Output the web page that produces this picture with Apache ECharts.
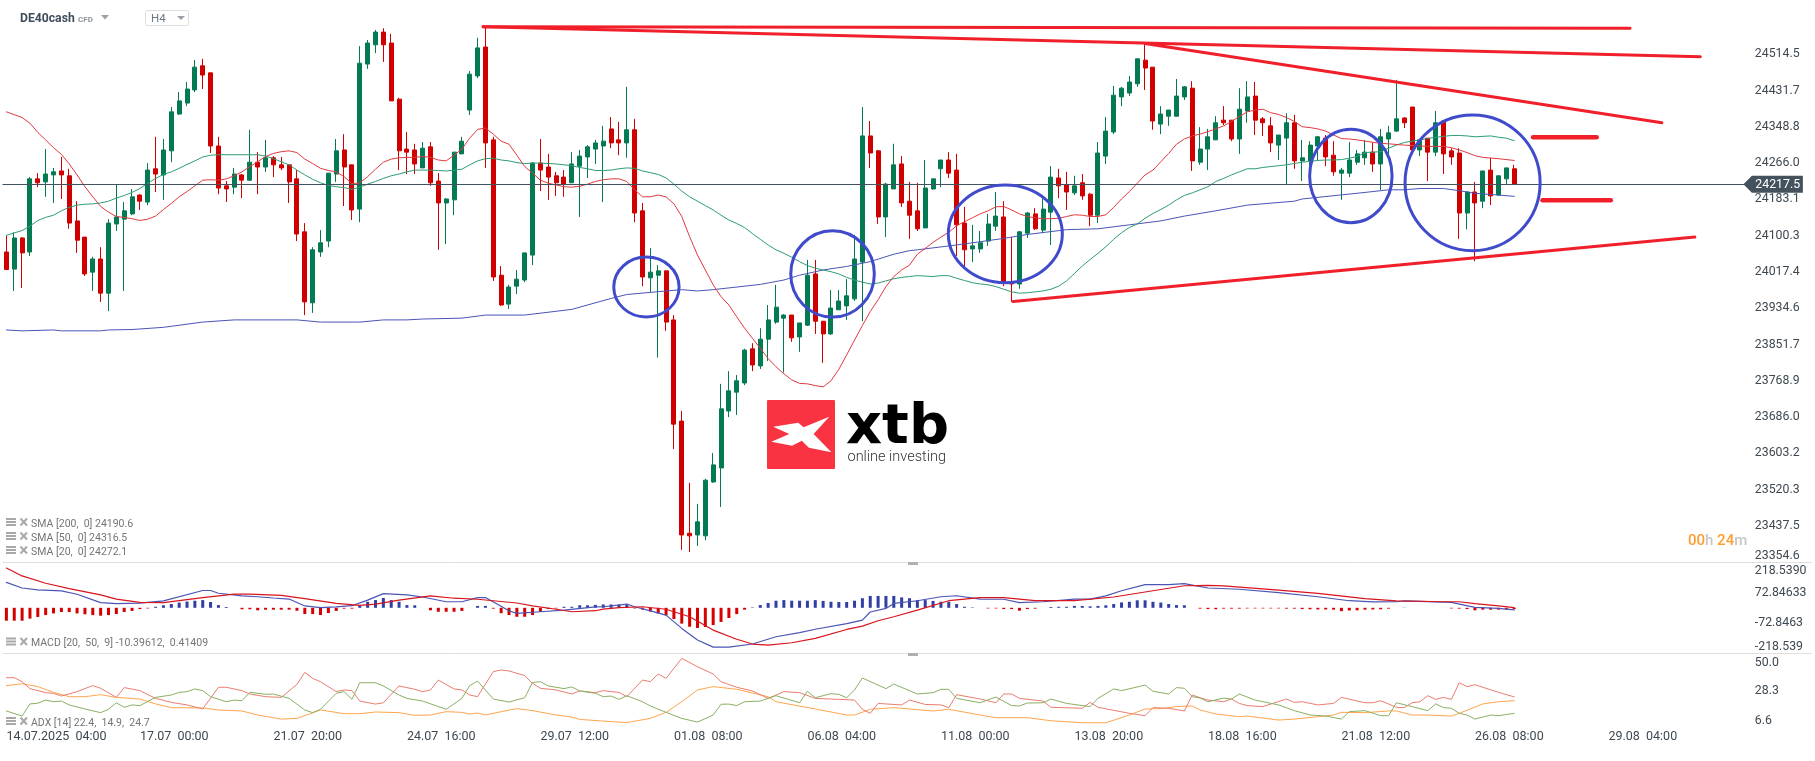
<!DOCTYPE html>
<html>
<head>
<meta charset="utf-8">
<title>DE40cash H4</title>
<script src="https://cdn.jsdelivr.net/npm/echarts@6/dist/echarts.min.js"></script>
<style>
  html, body { margin: 0; padding: 0; background: #fff; }
  #chart { width: 1815px; height: 761px; }
</style>
</head>
<body>
<div id="chart"></div>
<script>
// --- chart data ---
const opens = [
  24063,24024,24095,24063,24230,24223,24239,24248,24237,24134,
  24097,24017,24047,23969,24127,24138,24150,24193,24177,24253,
  24239,24294,24378,24403,24433,24488,24472,24305,24214,24211,
  24239,24227,24268,24257,24278,24262,24262,24230,24109,23947,
  24063,24088,24241,24296,24262,24161,24492,24536,24565,24540,
  24412,24298,24296,24255,24303,24225,24175,24182,24287,24387,
  24465,24531,24319,24010,23944,23985,23999,24056,24266,24257,
  24237,24234,24221,24259,24280,24298,24305,24344,24319,24312,
  24342,24157,24004,24010,24020,23908,23677,23421,23417,23415,
  23538,23570,23700,23743,23764,23842,23803,23864,23903,23912,
  23919,23869,23896,24013,23905,23876,23931,23940,23956,24040,
  24328,24294,24143,24207,24264,24179,24157,24118,24207,24253,
  24273,24250,24129,24070,24070,24088,24122,24143,23994,23990,
  24106,24150,24113,24154,24232,24216,24198,24221,24195,24147,
  24282,24337,24417,24426,24447,24501,24485,24355,24373,24373,
  24417,24437,24268,24298,24319,24364,24364,24321,24385,24419,
  24367,24351,24307,24323,24358,24271,24271,24305,24323,24284,
  24243,24243,24268,24278,24291,24264,24321,24339,24369,24394,
  24296,24323,24291,24362,24294,24289,24152,24200,24179,24250,
  24193,24230,24253
];
const closes = [
  24023,24095,24061,24230,24221,24241,24246,24239,24129,24090,
  24013,24047,23969,24129,24143,24157,24189,24179,24250,24241,
  24296,24383,24408,24435,24485,24467,24305,24209,24207,24241,
  24227,24268,24257,24278,24262,24255,24223,24104,23949,24068,
  24084,24243,24294,24257,24159,24494,24540,24565,24536,24408,
  24294,24291,24264,24300,24221,24175,24184,24291,24316,24469,
  24529,24312,24006,23942,23983,24001,24061,24266,24250,24234,
  24221,24218,24264,24282,24303,24312,24316,24312,24312,24342,
  24152,24006,24017,24020,23903,23670,23417,23415,23447,23542,
  23577,23705,23746,23769,23839,23805,23864,23908,23937,23919,
  23867,23901,24010,23905,23876,23935,23951,23963,24047,24328,
  24289,24143,24218,24262,24175,24147,24116,24209,24230,24273,
  24243,24125,24068,24077,24084,24127,24145,23994,23990,24109,
  24152,24116,24161,24234,24214,24200,24214,24191,24147,24289,
  24339,24421,24437,24451,24504,24483,24362,24378,24387,24419,
  24440,24271,24298,24326,24358,24358,24321,24389,24417,24364,
  24358,24312,24330,24358,24271,24278,24307,24326,24280,24246,
  24250,24273,24287,24291,24264,24326,24335,24367,24358,24296,
  24319,24291,24358,24287,24280,24152,24200,24175,24248,24191,
  24237,24255,24217.5
];
const lows = [
  24022,23974,23981,24054,24211,24189,24175,24184,24116,24061,
  24008,23974,23949,23928,24111,23974,24147,24159,24170,24200,
  24182,24268,24376,24396,24428,24435,24289,24195,24177,24195,
  24186,24225,24195,24246,24234,24250,24175,24088,23919,23924,
  24052,24074,24223,24168,24136,24131,24481,24517,24497,24408,
  24250,24241,24241,24255,24214,24068,24081,24147,24287,24376,
  24460,24255,23997,23940,23933,23967,23994,24033,24202,24182,
  24191,24189,24221,24143,24232,24264,24177,24300,24284,24278,
  24131,23985,23972,23822,23883,23613,23383,23378,23392,23405,
  23536,23481,23686,23691,23759,23791,23796,23814,23899,23788,
  23858,23835,23894,23876,23810,23874,23931,23908,23951,23905,
  24255,24127,24097,24207,24166,24093,24111,24118,24205,24211,
  24232,24054,24031,24040,24061,24077,24111,23985,23949,23979,
  24095,24113,24106,24079,24186,24159,24193,24182,24122,24129,
  24264,24332,24396,24419,24440,24433,24342,24332,24351,24373,
  24410,24248,24262,24250,24319,24353,24316,24287,24358,24330,
  24328,24291,24273,24217,24253,24225,24227,24271,24259,24237,
  24182,24234,24262,24262,24246,24205,24287,24337,24346,24296,
  24282,24225,24282,24241,24262,24093,24115,24042,24163,24170,
  24191,24218,24217.5
];
const highs = [
  24101,24108,24097,24234,24243,24298,24255,24280,24253,24179,
  24097,24052,24074,24138,24218,24177,24207,24195,24266,24326,
  24321,24394,24428,24451,24501,24504,24472,24326,24225,24255,
  24241,24342,24291,24319,24282,24280,24262,24250,24129,24074,
  24113,24243,24321,24332,24262,24533,24547,24570,24574,24561,
  24415,24337,24310,24314,24314,24243,24186,24291,24326,24476,
  24552,24577,24326,24031,23988,24022,24061,24268,24321,24287,
  24246,24250,24291,24296,24307,24319,24351,24371,24360,24440,
  24367,24175,24072,24033,24020,23919,23700,23536,23488,23545,
  23604,23762,23791,23782,23842,23855,23889,23942,23988,23921,
  23919,23901,24045,24045,23905,23976,23976,24001,24102,24394,
  24362,24296,24221,24310,24282,24223,24221,24273,24230,24273,
  24291,24287,24166,24125,24111,24150,24200,24179,24097,24111,
  24154,24163,24184,24259,24253,24246,24237,24241,24198,24314,
  24371,24442,24440,24465,24504,24540,24485,24396,24387,24458,
  24442,24453,24348,24344,24373,24396,24364,24437,24453,24451,
  24371,24371,24330,24380,24376,24319,24316,24328,24330,24316,
  24255,24314,24296,24319,24312,24344,24351,24456,24371,24394,
  24319,24323,24385,24364,24300,24300,24200,24223,24248,24278,
  24237,24255,24262
];

// moving averages as [bar, price]
const sma20 = [[0,24383],[2,24370],[3,24357],[4,24336],[5,24319],[6,24301],[7,24286],[8,24264],[9,24239],[10,24212],
  [11,24189],[12,24167],[13,24154],[14,24144],[15,24142],[16,24139],[17,24135],[18,24138],[19,24145],[20,24160],
  [21,24174],[22,24189],[23,24201],[24,24214],[25,24227],[26,24228],[27,24227],[28,24230],[29,24237],[30,24246],
  [31,24258],[32,24269],[33,24281],[34,24288],[35,24292],[36,24294],[37,24290],[38,24275],[39,24265],[40,24254],
  [41,24249],[42,24246],[43,24235],[44,24219],[45,24221],[46,24235],[47,24252],[48,24268],[49,24275],[50,24278],
  [51,24279],[52,24279],[53,24281],[54,24279],[55,24273],[56,24271],[57,24284],[58,24298],[59,24323],[60,24343],
  [61,24346],[62,24332],[63,24316],[64,24309],[65,24284],[66,24258],[67,24243],[68,24227],[69,24220],[70,24216],
  [71,24212],[72,24211],[73,24213],[74,24218],[75,24224],[76,24228],[77,24230],[78,24230],[79,24224],[80,24205],
  [81,24189],[82,24189],[83,24193],[84,24189],[85,24173],[86,24144],[87,24098],[88,24056],[89,24022],[90,23988],
  [91,23961],[92,23942],[93,23915],[94,23889],[95,23866],[96,23843],[97,23820],[98,23801],[99,23785],[100,23771],
  [101,23763],[102,23762],[103,23758],[104,23755],[105,23769],[106,23795],[107,23828],[108,23862],[109,23895],[110,23927],
  [111,23954],[112,23984],[113,24007],[114,24022],[115,24033],[116,24058],[117,24071],[118,24085],[119,24097],[120,24108],
  [121,24123],[122,24132],[123,24141],[124,24150],[125,24157],[126,24166],[127,24167],[128,24159],[129,24150],[130,24144],
  [131,24141],[132,24139],[133,24139],[134,24140],[135,24144],[136,24148],[137,24147],[138,24144],[139,24144],[140,24148],
  [141,24165],[142,24184],[143,24201],[144,24220],[145,24239],[146,24250],[147,24269],[148,24288],[149,24309],[150,24321],
  [151,24328],[152,24332],[153,24338],[154,24344],[155,24351],[156,24361],[157,24372],[158,24383],[159,24387],[160,24389],
  [161,24381],[162,24377],[163,24370],[164,24361],[165,24349],[166,24347],[167,24344],[168,24339],[169,24330],[170,24322],
  [171,24321],[172,24319],[173,24316],[175,24311],[176,24310],[178,24307],[180,24305],[181,24304],[183,24304],[184,24301],
  [185,24296],[186,24290],[187,24283],[188,24279],[190,24276],[192,24272]];
const sma50 = [[0,24101],[2,24112],[3,24122],[4,24135],[5,24142],[6,24147],[7,24157],[8,24165],[9,24170],[10,24172],
  [11,24173],[12,24175],[13,24179],[14,24186],[15,24192],[16,24199],[17,24208],[18,24220],[19,24231],[20,24240],
  [21,24246],[22,24254],[23,24263],[24,24271],[25,24280],[26,24284],[27,24285],[32,24285],[33,24282],[34,24276],
  [35,24269],[36,24262],[37,24250],[38,24239],[39,24229],[40,24221],[41,24215],[42,24212],[43,24210],[44,24206],
  [45,24211],[46,24218],[47,24224],[48,24231],[49,24237],[50,24241],[51,24246],[52,24250],[54,24250],[55,24249],
  [56,24248],[57,24250],[58,24252],[59,24262],[60,24271],[61,24276],[62,24277],[63,24273],[64,24271],[65,24267],
  [66,24265],[67,24266],[68,24266],[69,24265],[70,24264],[71,24262],[72,24260],[73,24256],[74,24253],[75,24249],
  [76,24249],[77,24250],[78,24253],[79,24255],[80,24254],[81,24248],[82,24244],[83,24240],[84,24232],[85,24218],
  [86,24202],[87,24189],[88,24179],[89,24169],[90,24159],[91,24147],[92,24136],[93,24128],[94,24119],[95,24105],
  [96,24092],[97,24079],[98,24068],[99,24060],[100,24051],[101,24041],[102,24032],[103,24026],[104,24022],[105,24018],
  [106,24013],[107,24005],[108,23999],[109,23994],[110,23990],[111,23992],[112,23997],[113,24002],[114,24005],[115,24007],
  [116,24009],[118,24007],[119,24009],[120,24009],[121,24003],[122,23998],[123,23993],[124,23990],[125,23988],[126,23984],
  [127,23978],[128,23972],[129,23969],[130,23970],[131,23972],[132,23974],[133,23978],[134,23985],[135,23997],[136,24014],
  [137,24031],[138,24046],[139,24060],[140,24075],[141,24092],[142,24107],[143,24119],[144,24127],[145,24140],[146,24151],
  [147,24160],[148,24170],[149,24182],[150,24192],[151,24198],[152,24205],[153,24212],[154,24224],[155,24231],[156,24239],
  [157,24246],[158,24253],[159,24253],[160,24256],[161,24258],[162,24260],[163,24262],[164,24265],[165,24268],[166,24270],
  [167,24272],[168,24273],[169,24273],[170,24274],[171,24277],[172,24281],[173,24290],[175,24292],[176,24300],[177,24307],
  [178,24313],[179,24316],[180,24319],[182,24325],[184,24329],[185,24329],[186,24328],[187,24326],[189,24328],[190,24325],
  [191,24323],[192,24317]];
const sma200 = [[0,23885],[2,23883],[6,23885],[7,23883],[12,23883],[13,23885],[16,23886],[20,23891],[25,23903],[29,23908],
  [37,23908],[40,23903],[45,23903],[48,23908],[51,23908],[53,23910],[58,23912],[61,23919],[66,23919],[72,23932],
  [77,23957],[79,23966],[84,23974],[86,23977],[88,23974],[90,23977],[96,23989],[99,23999],[101,24010],[104,24022],
  [107,24030],[110,24041],[113,24058],[115,24066],[116,24068],[121,24079],[127,24094],[130,24103],[135,24114],[139,24116],
  [143,24125],[147,24134],[150,24145],[154,24157],[158,24170],[164,24179],[165,24184],[173,24199],[176,24205],[178,24205],
  [180,24208],[183,24208],[185,24203],[187,24197],[190,24193],[192,24190]];

const macdHist = [
  -62,-62,-62,-52,-44,-35,-27,-20,-20,-27,
  -31,-35,-38,-35,-30,-20,-15,-6,-3,5,
  12,18,25,30,34,37,28,13,4,0,
  -7,-7,-12,-9,-9,-9,-9,-14,-30,-30,
  -35,-25,-15,-4,-4,9,29,37,47,37,
  29,13,12,0,-12,-19,-19,-19,-15,0,
  9,9,-4,-26,-35,-43,-43,-35,-20,-6,
  -3,5,5,12,12,14,16,16,16,16,
  -3,-8,-18,-27,-36,-54,-76,-91,-97,-92,
  -83,-68,-49,-30,-9,2,13,23,34,37,
  34,34,34,37,33,29,28,28,34,46,
  57,57,57,57,50,46,37,37,33,29,
  29,18,5,2,0,-3,-3,-6,-6,-14,
  -6,-4,0,4,5,5,9,9,7,9,
  12,18,26,29,36,36,29,25,18,13,
  12,0,-4,-6,-7,-4,-4,-4,-3,-3,
  -3,-3,-3,-4,-4,-6,-7,-8,-8,-9,
  -16,-13,-12,-9,-8,-7,-4,0,1,0,
  0,0,0,0,-3,-4,-6,-12,-9,-9,
  -9,-8,-6
];
const macdLine = [[0,122],[2,95],[4,86],[7,81],[9,65],[12,25],[14,20],[17,22],[20,33],[25,83],[26,83],[27,70],[30,57],[32,53],
  [34,47],[36,42],[38,9],[40,1],[42,4],[44,10],[46,37],[48,68],[51,62],[53,52],[56,29],[58,29],[60,49],[61,49],[64,-14],[65,-27],
  [68,-19],[71,-11],[75,4],[76,5],[79,18],[80,5],[82,-15],[84,-35],[86,-99],[88,-155],[90,-189],[92,-189],[95,-174],[98,-139],
  [101,-119],[103,-103],[107,-76],[109,-59],[110,-20],[112,-3],[113,21],[116,34],[119,53],[121,58],[124,42],[127,41],[129,25],
  [132,29],[136,42],[138,42],[140,57],[142,82],[145,111],[148,111],[150,116],[153,95],[157,89],[162,73],[167,53],[171,34],
  [174,28],[177,29],[178,33],[184,26],[187,2],[190,-3],[192,-10]];
const macdSignal = [[0,191],[2,153],[5,118],[8,92],[12,62],[14,42],[17,26],[20,25],[25,49],[29,66],[31,66],[35,60],[38,44],[42,21],
  [45,12],[47,18],[50,37],[54,57],[57,46],[60,41],[65,23],[67,9],[70,-7],[72,-19],[75,-14],[76,-6],[78,1],[81,5],[84,-7],[87,-43],
  [90,-107],[93,-151],[95,-174],[97,-179],[100,-168],[103,-147],[107,-104],[109,-88],[111,-62],[113,-43],[116,-11],[120,34],
  [124,49],[127,49],[131,34],[136,34],[141,52],[146,82],[150,106],[153,108],[155,105],[162,85],[167,69],[173,44],[177,33],
  [183,29],[185,29],[187,20],[190,9],[192,1]];

const adxRed = [[0,36.1],[1,36.1],[2,33.7],[3,29.6],[5,27.2],[6,26.8],[7,25.2],[9,27.8],[11,31.4],[12,29.8],[14,24.4],[15,30.2],
  [17,28.4],[19,23.8],[21,21.4],[23,19.9],[25,17.5],[27,30.4],[28,30.4],[30,28.4],[31,26.4],[33,24.8],[35,24.4],[37,32.1],[38,39.3],
  [39,35.7],[40,33.7],[42,27.8],[43,28.8],[44,28.4],[45,22.2],[47,20.4],[48,21.2],[50,31.2],[52,29.2],[53,27.8],[54,28.8],[55,34.7],
  [57,29.4],[58,28.8],[59,25.8],[60,24.8],[62,39.7],[63,40.7],[64,40.1],[66,37.3],[67,32.7],[68,29.8],[70,28.8],[72,26.4],[73,28.2],
  [75,27.2],[76,28.4],[77,27.8],[78,27.4],[79,24.8],[81,34.7],[82,33.7],[83,38.3],[84,35.7],[86,47.6],[88,42.6],[90,38.3],[91,33.7],
  [93,30.4],[95,28.2],[97,23.8],[99,27.8],[101,27.2],[103,23.8],[108,22.8],[109,17.3],[110,14.9],[111,20.8],[114,19.9],[115,22.8],
  [117,20.2],[119,19.9],[120,18.3],[121,26],[124,23.4],[126,21.2],[127,26.4],[128,26.4],[129,23.8],[132,22.2],[133,18.5],[137,17.9],
  [138,21.4],[139,18.5],[143,14.9],[145,13.5],[146,18.3],[148,17.9],[150,16.3],[151,25.8],[152,24.2],[153,22.8],[155,21.8],[156,23.4],
  [157,20.8],[158,19.5],[160,18.9],[163,23.4],[164,21.4],[165,21.8],[167,19.9],[169,20.8],[170,24.4],[173,21.2],[174,21.2],[175,22.4],
  [177,18.5],[178,18.3],[179,21.2],[180,21.8],[181,25.4],[182,23.2],[183,24.4],[184,23.2],[185,33.1],[186,30.8],[187,31.9],[190,27.4],[192,24.7]];
const adxGreen = [[0,16.3],[2,13.3],[3,20.5],[4,20.9],[5,22.8],[6,21.8],[7,22.2],[8,19.9],[10,17.5],[12,15.3],[13,17.3],[14,21.2],
  [15,18.5],[16,19.9],[17,19.5],[19,24.4],[21,25.8],[22,27.4],[23,27.8],[24,29.4],[25,28.4],[26,24.8],[28,21.8],[29,22.8],[30,22.4],
  [31,27.4],[33,26.2],[34,26.4],[36,23.8],[38,16.9],[39,15.3],[40,17.3],[42,26.8],[43,27.8],[44,23.2],[45,33.1],[47,33.1],[48,31.2],
  [50,25.8],[51,23.8],[53,22.2],[56,17.3],[58,23.8],[59,31.4],[60,34.1],[62,23.4],[64,21.6],[66,24.2],[67,33.3],[68,33.7],[69,31.2],
  [71,29.6],[72,30.6],[73,28.2],[75,26.8],[76,24.8],[77,25.2],[78,23.2],[79,25.4],[81,21.8],[82,19.3],[84,15.5],[86,11.9],[88,9.7],
  [90,13.9],[91,20.3],[92,20.4],[93,19.5],[94,21.8],[96,22.2],[98,25.4],[101,21.2],[102,28],[103,24.2],[105,26.6],[106,26.2],[107,24.2],
  [108,28.8],[109,35.9],[112,29.6],[113,32.3],[116,26.4],[118,27.2],[119,29.2],[120,29.2],[121,23.8],[124,21.2],[126,24.6],[128,19.5],
  [129,19.3],[130,21],[132,21.2],[133,23.4],[135,20.8],[138,18.9],[139,23.8],[141,29.4],[142,28.4],[145,31.7],[146,28],[148,26.4],
  [149,30.2],[150,29.8],[151,24.8],[152,24],[153,21.8],[155,24],[156,23.4],[157,26.4],[159,22.8],[162,19.9],[164,16.5],[166,13.9],
  [168,13.3],[170,11.5],[171,15.9],[173,16.5],[175,13.5],[176,13.5],[177,21.2],[179,18.9],[181,16.5],[182,20.5],[183,18.3],[184,17.9],
  [185,14.9],[186,13.9],[187,11.5],[189,13.9],[190,13.5],[192,14.9]];
const adxOrange = [[0,31.4],[2,32.5],[4,30.8],[6,27.4],[8,24.8],[10,24.8],[12,26],[14,24.4],[17,23.4],[19,20.5],[21,18.3],[25,18.1],
  [27,16.9],[30,16.3],[32,13.9],[35,11.5],[37,11.9],[40,16.9],[43,14.7],[45,14.7],[47,15.7],[50,15.3],[52,13.7],[54,13.9],[56,15.9],
  [58,15.5],[59,14.5],[60,15.1],[61,13.9],[63,15.9],[65,17.7],[67,16.5],[70,13.9],[72,12.7],[73,11.3],[76,10.3],[79,9.4],[82,11.9],
  [84,15.5],[86,21.8],[88,28.8],[90,30.8],[93,29.2],[97,24.8],[98,21.8],[103,17.5],[107,13.9],[108,13.9],[110,17.3],[113,18.3],
  [118,16.3],[120,17.3],[124,13.9],[126,12.3],[130,12.3],[133,10.5],[137,9.3],[140,9.3],[143,13.9],[145,17.5],[147,17.7],[149,18.9],
  [151,19.3],[152,16.9],[154,14.5],[157,12.9],[158,13.3],[162,10.9],[164,11.5],[167,12.9],[169,13.9],[170,15.5],[173,15.3],[176,16.3],
  [177,16.3],[179,13.9],[181,13.9],[184,13.3],[185,14.9],[188,20.5],[190,21.8],[192,22.4]];

// hand drawn annotations: [bar, price] ends, ellipses as [bar, price, bar radius, price radius]
const flatLine = [[60.7,24577.5],[206.75,24573.6]];
const fallingLine = [[60.7,24577.5],[215.7,24509]];
const upperLine = [[145,24539],[210.8,24358]];
const lowerLine = [[128.2,23950],[215,24097]];
const targetUp = [[194.4,24325],[202.5,24325]];
const targetDown = [[195.6,24181],[204.3,24181]];
const ellipses = [
  [81.5,23983,4.16,68.5],
  [105.2,24013,5.32,98.6],
  [127.2,24104.5,7.26,111.5],
  [171.2,24236.5,5.25,106.5],
  [186.7,24221,8.6,154.9]
];

// axes
const lastPrice = 24217.5;
const priceTicks = [23354.6,23437.5,23520.3,23603.2,23686.0,23768.9,23851.7,23934.6,24017.4,24100.3,24183.1,24266.0,24348.8,24431.7,24514.5];
const macdTicks = [-218.539,-72.8463,72.84633,218.539];
const macdTickLabels = ['-218.539','-72.8463','72.84633','218.5390'];
const adxTicks = [6.6,28.3,50.0];
const dateLabels = ['14.07.2025  04:00','17.07  00:00','21.07  20:00','24.07  16:00','29.07  12:00','01.08  08:00','06.08  04:00',
  '11.08  00:00','13.08  20:00','18.08  16:00','21.08  12:00','26.08  08:00','29.08  04:00'];
const labelEvery = 17;
const barSlots = 222;

const FONT = 'Roboto, "Noto Sans", sans-serif';
const UP = '#047a53', DOWN = '#d10000';
const TEXT = '#3e4851';

const categories = [];
for (let i = 0; i < barSlots; i++) {
  categories.push(i % labelEvery === 0 ? (dateLabels[i / labelEvery] || '') : '');
}

const candles = opens.map((o, i) => [o, closes[i], lows[i], highs[i]]);

function lineSeries(name, data, color, width, xi, yi) {
  return {
    name, type: 'line', data, xAxisIndex: xi, yAxisIndex: yi,
    showSymbol: false, symbol: 'none', silent: true, clip: false,
    lineStyle: { color, width, cap: 'round' }, z: 3
  };
}

function xAxisFor(gridIndex, labelled) {
  return {
    type: 'category', gridIndex, data: categories, boundaryGap: true,
    axisLine: { show: false }, axisTick: { show: false }, splitLine: { show: false },
    axisLabel: labelled ? {
      show: true, interval: 0, align: 'left', margin: 3, hideOverlap: false,
      color: TEXT, fontFamily: FONT, fontSize: 12.5
    } : { show: false }
  };
}

// the price pane's top tick is well below the pane edge, so only the indicator panes pin their max label
function yAxisFor(gridIndex, min, max, ticks, formatter, pinMax) {
  return {
    type: 'value', gridIndex, position: 'right', min, max, scale: true,
    axisLine: { show: false }, axisTick: { show: false }, splitLine: { show: false },
    axisLabel: {
      customValues: ticks, margin: 9, align: 'left', color: TEXT, fontFamily: FONT, fontSize: 12.3,
      padding: [3, 0, 0, 0],
      verticalAlignMinLabel: 'bottom', verticalAlignMaxLabel: pinMax ? 'top' : 'middle', formatter
    }
  };
}

// legend rows at the lower left of each pane
function legendRow(y, text) {
  const gray = '#a9a9a9';
  return [
    { type: 'rect', shape: { x: 6, y: y - 5, width: 10, height: 2 }, style: { fill: gray } },
    { type: 'rect', shape: { x: 6, y: y - 2, width: 10, height: 2 }, style: { fill: gray } },
    { type: 'rect', shape: { x: 6, y: y + 1, width: 10, height: 2 }, style: { fill: gray } },
    { type: 'line', shape: { x1: 20.5, y1: y - 4.5, x2: 27, y2: y + 2.5 }, style: { stroke: gray, lineWidth: 2 } },
    { type: 'line', shape: { x1: 27, y1: y - 4.5, x2: 20.5, y2: y + 2.5 }, style: { stroke: gray, lineWidth: 2 } },
    { type: 'text', style: { x: 31, y: y + 1, text, fill: '#757575', font: '10.5px ' + FONT, textVerticalAlign: 'middle' } }
  ];
}

const chrome = [
  // header
  { type: 'text', style: { x: 20, y: 19, text: 'DE40cash', fill: '#3f4d5c', font: 'bold 12.2px ' + FONT, textVerticalAlign: 'middle' } },
  { type: 'text', style: { x: 78, y: 19.5, text: 'CFD', fill: '#8c959e', font: 'bold 8px ' + FONT, textVerticalAlign: 'middle' } },
  { type: 'polygon', shape: { points: [[101, 15], [109, 15], [105, 19.5]] }, style: { fill: '#9aa1a8' } },
  { type: 'rect', shape: { x: 145.5, y: 10.5, width: 43, height: 15, r: 2 }, style: { fill: '#fff', stroke: '#dedede', lineWidth: 1 } },
  { type: 'text', style: { x: 151, y: 19, text: 'H4', fill: '#6d7882', font: '11.5px ' + FONT, textVerticalAlign: 'middle' } },
  { type: 'polygon', shape: { points: [[177, 16], [185, 16], [181, 20]] }, style: { fill: '#9aa1a8' } },
  // pane dividers and drag handles
  { type: 'line', shape: { x1: 3, y1: 562.5, x2: 1812, y2: 562.5 }, style: { stroke: '#dfdfdf', lineWidth: 1 } },
  { type: 'line', shape: { x1: 3, y1: 653.5, x2: 1812, y2: 653.5 }, style: { stroke: '#dfdfdf', lineWidth: 1 } },
  { type: 'rect', shape: { x: 908, y: 562, width: 10, height: 3 }, style: { fill: '#b0b0b0' } },
  { type: 'rect', shape: { x: 908, y: 653, width: 10, height: 3 }, style: { fill: '#b0b0b0' } },
  // watermark
  { type: 'rect', shape: { x: 767, y: 400, width: 68, height: 69, r: 1 }, style: { fill: '#f93342' } },
  { type: 'polygon', shape: { points: [[773.2, 426.7], [798.2, 422.7], [803.6, 427.3], [829.3, 416.7], [813.6, 434], [831.4, 452.3], [808.9, 447.7], [801.8, 440.7], [792.1, 445.7], [771.4, 441.7], [789.3, 434]] }, style: { fill: '#fff' } },
  { type: 'text', style: { x: 846, y: 428, text: 'xtb', fill: '#000', font: 'bold 56px "DejaVu Sans"', textVerticalAlign: 'middle' } },
  { type: 'text', style: { x: 847.5, y: 457.5, text: 'online investing', fill: '#333', font: '300 14.5px ' + FONT, textVerticalAlign: 'middle' } },
  // countdown
  {
    type: 'text',
    style: {
      x: 1688, y: 541.5, text: '{o|00}{g|h} {o|24}{g|m}', textVerticalAlign: 'middle', font: '15px ' + FONT,
      rich: {
        o: { fill: '#ff9d2e', font: '500 15px ' + FONT },
        g: { fill: '#c6c6c6', font: '500 15px ' + FONT }
      }
    }
  },
  ...legendRow(523, 'SMA [200,  0] 24190.6'),
  ...legendRow(537, 'SMA [50,  0] 24316.5'),
  ...legendRow(551, 'SMA [20,  0] 24272.1'),
  ...legendRow(642.5, 'MACD [20,  50,  9] -10.39612,  0.41409'),
  ...legendRow(722, 'ADX [14] 22.4,  14.9,  24.7')
];
chrome.forEach(el => { el.silent = true; el.z = 50; });

const chart = echarts.init(document.getElementById('chart'), null, { renderer: 'canvas' });

chart.setOption({
  animation: false,
  backgroundColor: '#fff',
  textStyle: { fontFamily: FONT },
  grid: [
    { left: 2.47, width: 1743.4, top: 0, height: 562.3 },
    { left: 2.47, width: 1743.4, top: 562.3, height: 91 },
    { left: 2.47, width: 1743.4, top: 654.3, height: 73 }
  ],
  xAxis: [
    xAxisFor(0, false),
    xAxisFor(1, false),
    xAxisFor(2, true),
    // same pane as the candles, numeric, so annotations can sit between bars
    { type: 'value', gridIndex: 0, min: -0.5, max: 221.5, show: false }
  ],
  yAxis: [
    yAxisFor(0, 23354.6, 24638.3, priceTicks, v => v.toFixed(1), false),
    yAxisFor(1, -218.539, 218.539, macdTicks, v => macdTickLabels[macdTicks.indexOf(v)], true),
    yAxisFor(2, 6.6, 50, adxTicks, v => v.toFixed(1), true)
  ],
  graphic: { elements: chrome },
  series: [
    {
      name: 'DE40cash', type: 'candlestick', data: candles, xAxisIndex: 0, yAxisIndex: 0,
      barWidth: 4.5, silent: true, z: 2,
      itemStyle: { color: UP, color0: DOWN, borderColor: UP, borderColor0: DOWN, borderWidth: 1 },
      markLine: {
        silent: true, symbol: 'none', animation: false, z: 4,
        lineStyle: { color: '#44525e', width: 1, type: 'solid' }, label: { show: false },
        data: [{ yAxis: lastPrice }]
      }
    },
    lineSeries('SMA 200', sma200, '#4a55b5', 1, 0, 0),
    lineSeries('SMA 50', sma50, '#2e9d75', 1, 0, 0),
    lineSeries('SMA 20', sma20, '#e03a40', 1, 0, 0),
    lineSeries('flat', flatLine, '#f01f2a', 3, 3, 0),
    lineSeries('falling', fallingLine, '#f01f2a', 3, 3, 0),
    lineSeries('upper', upperLine, '#f01f2a', 3, 3, 0),
    lineSeries('lower', lowerLine, '#f01f2a', 3, 3, 0),
    lineSeries('target up', targetUp, '#f01f2a', 4.5, 3, 0),
    lineSeries('target down', targetDown, '#f01f2a', 4.5, 3, 0),
    {
      name: 'circles', type: 'custom', data: ellipses, xAxisIndex: 3, yAxisIndex: 0, silent: true, clip: false, z: 5,
      encode: { x: 0, y: 1 },
      renderItem: (params, api) => {
        const c = api.coord([api.value(0), api.value(1)]);
        const s = api.size([api.value(2), api.value(3)]);
        return {
          type: 'ellipse',
          shape: { cx: c[0], cy: c[1], rx: s[0], ry: s[1] },
          style: { fill: 'none', stroke: '#3f4bcb', lineWidth: 3 }
        };
      }
    },
    {
      name: 'last price', type: 'custom', data: [[221.5, lastPrice]], xAxisIndex: 3, yAxisIndex: 0, silent: true, clip: false, z: 20,
      encode: { x: 0, y: 1 },
      renderItem: (params, api) => {
        const c = api.coord([api.value(0), api.value(1)]);
        const x = c[0], y = c[1];
        return {
          type: 'group',
          children: [
            {
              type: 'polygon',
              shape: { points: [[x - 2.5, y], [x + 6, y - 8.5], [x + 57, y - 8.5], [x + 57, y + 8.5], [x + 6, y + 8.5]] },
              style: { fill: '#44525e' }
            },
            {
              type: 'text',
              style: { x: x + 9.5, y: y + 0.5, text: lastPrice.toFixed(1), fill: '#fff', font: '12.3px ' + FONT, textVerticalAlign: 'middle' }
            }
          ]
        };
      }
    },
    {
      name: 'MACD hist', type: 'bar', data: macdHist, xAxisIndex: 1, yAxisIndex: 1, barWidth: 3, silent: true, z: 2,
      itemStyle: { color: p => p.value >= 0 ? '#2f3fa3' : '#d60000' }
    },
    lineSeries('MACD', macdLine, '#4a55b5', 1.2, 1, 1),
    lineSeries('Signal', macdSignal, '#d8141c', 1.2, 1, 1),
    lineSeries('ADX', adxOrange, '#ffa64d', 1, 2, 2),
    lineSeries('+DI', adxRed, '#ea7d70', 1, 2, 2),
    lineSeries('-DI', adxGreen, '#8ab063', 1, 2, 2)
  ]
});
</script>
</body>
</html>
